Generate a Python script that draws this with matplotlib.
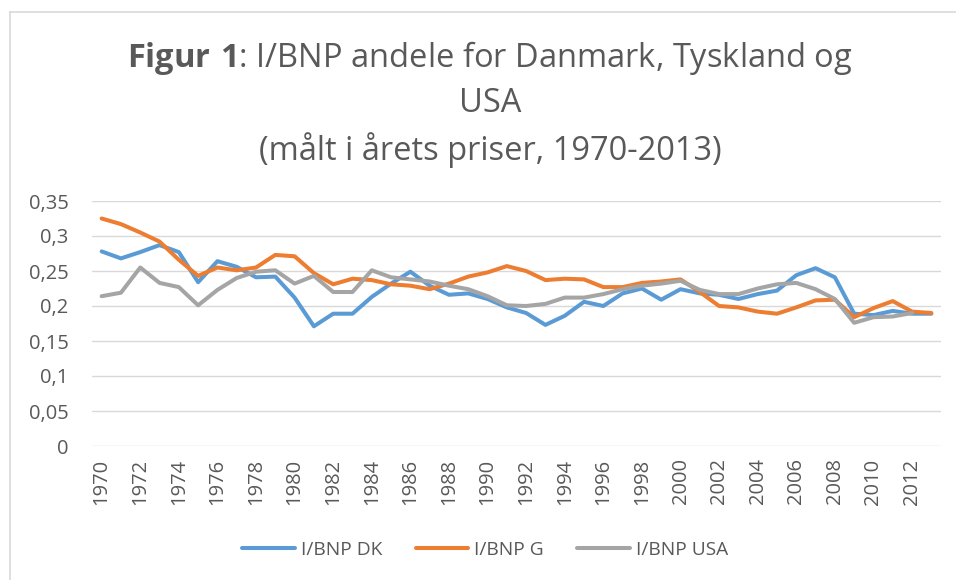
import numpy as np
import matplotlib
matplotlib.use("Agg")
import matplotlib.pyplot as plt
from matplotlib.lines import Line2D

# Data (I/BNP shares, current prices)
years = list(range(1970, 2014))

dk = [0.278, 0.268, 0.277, 0.287, 0.277, 0.234, 0.264, 0.256, 0.241, 0.242,
      0.212, 0.171, 0.189, 0.189, 0.213, 0.232, 0.249, 0.229, 0.216, 0.218,
      0.210, 0.198, 0.190, 0.173, 0.186, 0.206, 0.200, 0.218, 0.225, 0.209,
      0.224, 0.218, 0.216, 0.210, 0.217, 0.222, 0.244, 0.254, 0.241, 0.189,
      0.187, 0.193, 0.189, 0.189]

g = [0.325, 0.317, 0.305, 0.292, 0.266, 0.243, 0.255, 0.251, 0.255, 0.273,
     0.271, 0.247, 0.231, 0.239, 0.237, 0.231, 0.229, 0.224, 0.232, 0.242,
     0.248, 0.257, 0.250, 0.237, 0.239, 0.238, 0.227, 0.227, 0.233, 0.235,
     0.238, 0.220, 0.200, 0.198, 0.192, 0.189, 0.198, 0.208, 0.209, 0.184,
     0.197, 0.207, 0.192, 0.190]

usa = [0.214, 0.219, 0.255, 0.233, 0.227, 0.201, 0.223, 0.240, 0.249, 0.251,
       0.232, 0.243, 0.220, 0.220, 0.251, 0.241, 0.238, 0.235, 0.229, 0.224,
       0.214, 0.201, 0.200, 0.203, 0.212, 0.212, 0.217, 0.224, 0.229, 0.232,
       0.236, 0.223, 0.217, 0.217, 0.225, 0.231, 0.233, 0.224, 0.210, 0.176,
       0.184, 0.185, 0.190, np.nan]

series_names = ["I/BNP DK", "I/BNP G", "I/BNP USA"]
colors = ["#5B9BD5", "#ED7D31", "#A5A5A5"]
yticks = [0, 0.05, 0.1, 0.15, 0.2, 0.25, 0.3, 0.35]
ytick_labels = ["0", "0,05", "0,1", "0,15", "0,2", "0,25", "0,3", "0,35"]

plt.rcParams['font.family'] = ['Open Sans', 'DejaVu Sans']
plt.rcParams['mathtext.fontset'] = 'custom'
plt.rcParams['mathtext.rm'] = 'Open Sans'
plt.rcParams['mathtext.bf'] = 'Open Sans:bold'

txt = "#595959"
W, H = 956, 580
fig = plt.figure(figsize=(W / 100, H / 100), dpi=100)
ax = fig.add_axes([92 / W, 1 - 446 / H, (941 - 92) / W, (446 - 201) / H])

for vals, name, c in zip([dk, g, usa], series_names, colors):
    ax.plot(years, vals, color=c, lw=2.9, label=name,
            solid_capstyle='round', solid_joinstyle='round')

ax.set_xlim(1969.5, 2013.5)
ax.set_ylim(0, 0.35)
ax.set_yticks(yticks)
ax.set_yticklabels(ytick_labels)
ax.set_xticks(years[::2])
ax.set_xticklabels([str(y) for y in years[::2]], rotation=90)
ax.tick_params(axis='y', length=0, pad=17, labelsize=14.5, labelcolor=txt)
ax.tick_params(axis='x', length=0, pad=9, labelsize=14.5, labelcolor=txt)
ax.grid(axis='y', color='#D9D9D9', lw=1)
ax.set_axisbelow(True)
for s in ax.spines.values():
    s.set_visible(False)

# title, first part in bold
fig.text(490 / W, 1 - 39 / H,
         "$\\bf{Figur\\ 1}$: I/BNP andele for Danmark, Tyskland og\nUSA\n(målt i årets priser, 1970-2013)",
         ha='center', va='top', fontsize=23.5, color=txt, linespacing=1.42)

handles = [Line2D([0], [0], color=c, lw=2.9, solid_capstyle='round') for c in colors]
fig.legend(handles, series_names, loc='center', bbox_to_anchor=(485 / W, 1 - 550 / H),
           ncol=3, frameon=False, fontsize=13.8, labelcolor=txt,
           handlelength=2.75, handletextpad=0.3, columnspacing=1.75)

# chart border (cropped on the right and bottom)
fig.add_artist(Line2D([10 / W, 1], [1 - 12 / H, 1 - 12 / H], color='#D9D9D9', lw=1.2))
fig.add_artist(Line2D([10 / W, 10 / W], [0, 1 - 12 / H], color='#D9D9D9', lw=1.2))

fig.savefig("out.png", dpi=100)
